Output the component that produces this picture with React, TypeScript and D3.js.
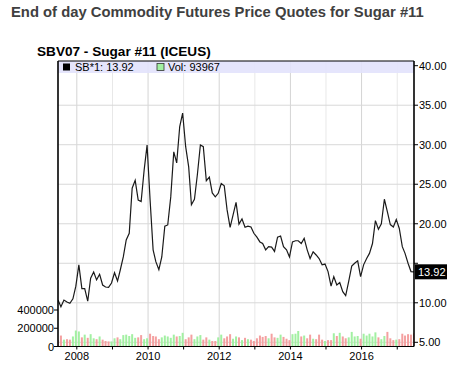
import React from "react";
import * as d3 from "d3";

const TITLE = "End of day Commodity Futures Price Quotes for Sugar #11";
const CHART_TITLE = "SBV07 - Sugar #11 (ICEUS)";
const START_MONTH = "2007-06-22";
const END_MONTH = "2017-06-22";

// monthly settlement prices, Jun 2007 .. Jun 2017
const prices = [
  10.35, 9.5, 10.35, 10.1, 9.93, 10.5, 12.1,
  14.8, 11.8, 11.8, 10.2, 13.1, 13.9, 12.9, 13.6, 12.25, 12.0, 11.95, 12.5,
  13.8, 12.75, 14.15, 15.8, 17.95, 18.8, 24.5, 25.5, 23.0, 22.8, 26.8, 29.95,
  23.0, 16.7, 15.2, 14.2, 15.8, 19.7, 19.85, 23.4, 29.1, 27.7, 32.3, 34.0,
  29.75, 27.2, 22.4, 23.1, 26.2, 29.97, 29.75, 25.45, 25.9, 23.9, 23.4, 23.85,
  25.1, 24.8, 21.75, 19.55, 21.1, 22.7, 19.95, 20.6, 19.55, 19.7, 19.6, 18.8,
  18.3, 17.7, 17.5, 16.7, 17.1, 17.05, 16.5, 18.3, 18.45, 17.1, 16.7, 15.8,
  17.7, 17.85, 17.85, 17.5, 18.15, 16.7, 15.6, 16.45, 16.05, 15.6, 14.8, 14.9,
  13.95, 12.1, 13.3, 12.25, 12.55, 11.4, 10.9, 12.7, 14.65, 15.0, 15.3, 13.3,
  14.8, 15.6, 16.25, 17.5, 20.4, 19.3, 20.0, 23.1, 21.5, 19.9, 19.6, 20.55,
  19.4, 17.1, 16.25, 15.0, 13.95, 13.92,
];

// monthly volume (contracts)
const volumes = [
  70000, 120000, 75000, 80000, 75000, 110000,
  175000, 165000, 100000, 130000, 95000, 135000, 90000, 80000, 110000, 75000, 60000, 55000,
  55000, 90000, 100000, 80000, 125000, 130000, 115000, 135000, 95000, 100000, 125000, 80000,
  90000, 140000, 115000, 110000, 80000, 100000, 120000, 110000, 95000, 130000, 110000, 115000,
  150000, 80000, 100000, 130000, 80000, 110000, 125000, 75000, 100000, 75000, 60000, 60000,
  100000, 130000, 90000, 110000, 135000, 85000, 110000, 100000, 70000, 95000, 80000, 75000,
  60000, 90000, 120000, 105000, 115000, 90000, 140000, 100000, 95000, 130000, 105000, 85000,
  70000, 135000, 140000, 170000, 110000, 120000, 90000, 130000, 85000, 80000, 130000, 75000,
  60000, 70000, 70000, 145000, 115000, 150000, 110000, 90000, 100000, 160000, 110000, 115000,
  85000, 140000, 120000, 140000, 110000, 155000, 100000, 80000, 115000, 160000, 90000, 70000,
  75000, 80000, 140000, 120000, 135000, 130000, 145000,
];

const priceTicks = [5, 10, 15, 20, 25, 30, 35, 40];
const volTicks = [0, 200000, 400000];
const yearTicks = [2008, 2009, 2010, 2011, 2012, 2013, 2014, 2015, 2016, 2017];
const yearLabels = [2008, 2010, 2012, 2014, 2016];
const lastPrice = "13.92";
const lastVol = "93967";

const L = 58, R = 414, T = 61, B = 346.5;
const FONT = "'Liberation Sans', Arial, sans-serif";

export default function App() {
  const start = new Date(START_MONTH + "T00:00:00");
  const end = new Date(END_MONTH + "T00:00:00");
  const x = d3.scaleTime().domain([start, end]).range([L, R]);
  const y = d3.scaleLinear().domain([5, 40]).range([342.3, 65.7]);
  const yv = d3.scaleLinear().domain([0, 400000]).range([B, 310]);

  const data = prices.map((p, i) => ({
    date: d3.timeMonth.offset(start, i),
    price: p,
    vol: volumes[i],
    up: i === 0 ? false : p >= prices[i - 1],
  }));

  const line = d3
    .line<any>()
    .x((d) => x(d.date))
    .y((d) => y(d.price));

  return (
    <svg
      width={460}
      height={367}
      style={{ position: "absolute", left: 0, top: 0, background: "#fff" }}
      fontFamily={FONT}
    >
      <rect x={0} y={0} width={460} height={367} fill="#fff" />
      <text x={11} y={17} fontSize={14.8} fontWeight="bold" fill="#404040">
        {TITLE}
      </text>
      <text x={37} y={56} fontSize={13.6} fontWeight="bold" fill="#000">
        {CHART_TITLE}
      </text>

      <defs>
        <clipPath id="plot">
          <rect x={L} y={T} width={R - L} height={B - T} />
        </clipPath>
      </defs>

      {/* grid */}
      {yearTicks.map((yr) => (
        <line
          key={"vg" + yr}
          x1={x(new Date(yr, 0, 1))}
          x2={x(new Date(yr, 0, 1))}
          y1={T}
          y2={B}
          stroke={yr % 2 === 0 ? "#d4d4d4" : "#e8e8e8"}
          strokeWidth={1}
        />
      ))}
      {priceTicks
        .filter((p) => p < 40)
        .map((p) => (
          <line
            key={"hg" + p}
            x1={L}
            x2={R}
            y1={y(p)}
            y2={y(p)}
            stroke="#d8d8d8"
            strokeWidth={1}
          />
        ))}

      {/* legend band */}
      <rect x={L} y={T} width={R - L} height={12} fill="#e2e2fc" opacity={0.9} />

      {/* volume bars */}
      <g clipPath="url(#plot)">
        {data.map((d, i) => (
          <rect
            key={"v" + i}
            x={x(d.date) - 1}
            y={yv(d.vol)}
            width={2}
            height={B - yv(d.vol)}
            fill={d.up ? "#a2f0a2" : "#f4a0a0"}
          />
        ))}
        <path d={line(data) || ""} fill="none" stroke="#1a1a1a" strokeWidth={1.2} />
      </g>

      {/* frame */}
      <line x1={L} x2={R} y1={T} y2={T} stroke="#000" strokeWidth={1} />
      <line x1={L} x2={R} y1={B} y2={B} stroke="#000" strokeWidth={1.2} />
      <line x1={L} x2={L} y1={T} y2={B} stroke="#000" strokeWidth={1.6} />
      <line x1={R} x2={R} y1={T} y2={B} stroke="#000" strokeWidth={1.6} />

      {/* legend */}
      <rect x={63} y={63.5} width={7} height={7} fill="#000" />
      <text x={75} y={71} fontSize={11} fill="#000">
        {"SB*1: " + lastPrice}
      </text>
      <rect x={157} y={63.5} width={7} height={7} fill="#a2f0a2" stroke="#333" strokeWidth={0.8} />
      <text x={168} y={71} fontSize={11} fill="#000">
        {"Vol: " + lastVol}
      </text>

      {/* right price axis */}
      {priceTicks.map((p) => (
        <g key={"pt" + p}>
          <line x1={R} x2={R + 4} y1={y(p)} y2={y(p)} stroke="#000" />
          {p !== 15 && (
            <text x={419} y={y(p) + 4} fontSize={11} fill="#000">
              {p.toFixed(2)}
            </text>
          )}
        </g>
      ))}
      <rect x={415} y={y(13.92) - 7.5} width={32} height={15} fill="#000" />
      <text x={418} y={y(13.92) + 4} fontSize={11} fill="#fff">
        {lastPrice}
      </text>

      {/* left volume axis */}
      {volTicks.map((v) => (
        <g key={"vt" + v}>
          <line x1={L - 4} x2={L} y1={yv(v)} y2={yv(v)} stroke="#000" />
          <text x={L - 4} y={yv(v) + 4} fontSize={11} fill="#000" textAnchor="end">
            {v}
          </text>
        </g>
      ))}

      {/* bottom axis */}
      {yearTicks.map((yr) => (
        <line
          key={"xt" + yr}
          x1={x(new Date(yr, 0, 1))}
          x2={x(new Date(yr, 0, 1))}
          y1={B}
          y2={B + 3}
          stroke="#000"
        />
      ))}
      {yearLabels.map((yr) => (
        <text
          key={"xl" + yr}
          x={x(new Date(yr, 0, 1))}
          y={359.5}
          fontSize={11}
          fill="#000"
          textAnchor="middle"
        >
          {yr}
        </text>
      ))}
    </svg>
  );
}
